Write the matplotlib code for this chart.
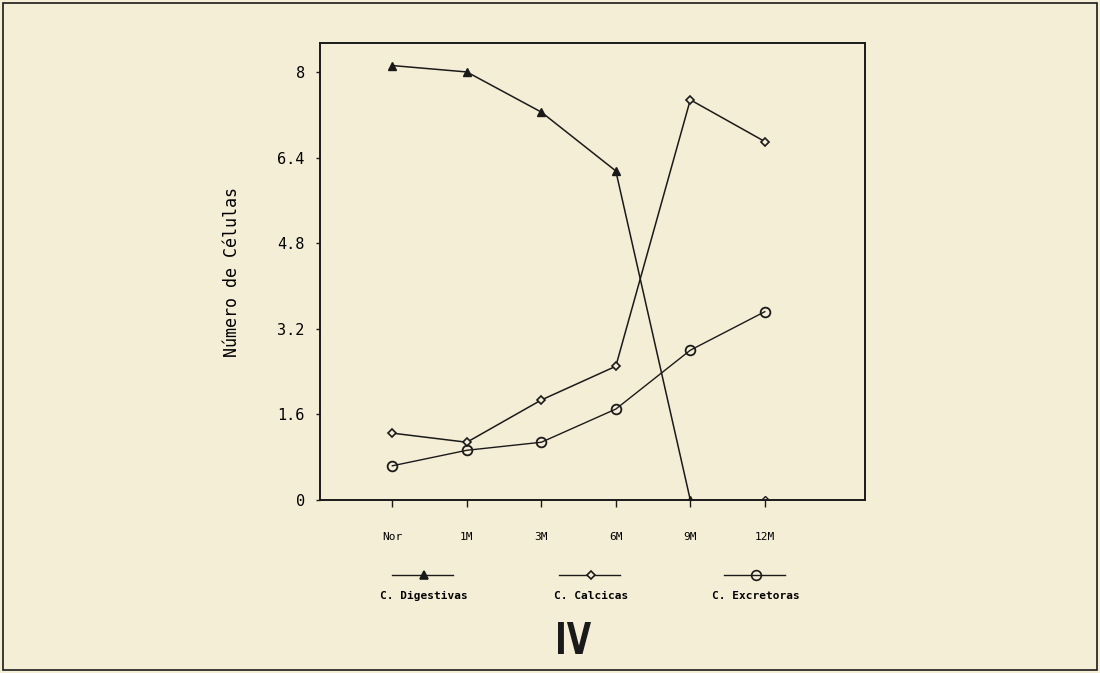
import matplotlib.pyplot as plt
from matplotlib.lines import Line2D
from matplotlib.patches import Rectangle, PathPatch
from matplotlib.textpath import TextPath
from matplotlib.font_manager import FontProperties
from matplotlib.transforms import Affine2D

periodos = ["Nor", "1M", "3M", "6M", "9M", "12M"]
digestivas = [8.12, 8.0, 7.25, 6.15, 0.0]      # 12M drawn as lone marker
digestivas_12m = 0.0
calcicas = [1.25, 1.08, 1.87, 2.5, 7.48, 6.7]
excretoras = [0.64, 0.93, 1.08, 1.7, 2.8, 3.52]
yticks = [0, 1.6, 3.2, 4.8, 6.4, 8]
yticklabels = ["0", "1.6", "3.2", "4.8", "6.4", "8"]

bg = "#f5eed6"
ink = "#1a1a1a"
mono = "DejaVu Sans Mono"

fig = plt.figure(figsize=(11, 6.73), dpi=100, facecolor=bg)
ax = fig.add_axes([0.291, 0.257, 0.495, 0.679], facecolor=bg)

x = list(range(len(periodos)))
ax.plot(x[:5], digestivas, color=ink, lw=1.1, marker="^", ms=6, mfc=ink, mec=ink)
ax.plot([5], [digestivas_12m], ls="none", marker="D", ms=4, mfc=bg, mec=ink, mew=1.0)
ax.plot(x, calcicas, color=ink, lw=1.1, marker="D", ms=4, mfc=bg, mec=ink, mew=1.2)
ax.plot(x, excretoras, color=ink, lw=1.0, marker="o", ms=7, mfc="none", mec=ink, mew=1.3)

ax.set_xlim(-0.97, 6.34)
ax.set_ylim(0, 8.54)
ax.set_xticks(x)
ax.set_xticklabels(periodos, family=mono, fontsize=8)
ax.set_yticks(yticks)
ax.set_yticklabels(yticklabels, family=mono, fontsize=11)
ax.tick_params(axis="x", length=5, width=1, pad=18, color=ink)
ax.tick_params(axis="y", length=3, width=1, pad=8, color=ink)
for s in ax.spines.values():
    s.set_linewidth(1.4)
    s.set_color(ink)

ax.set_ylabel("Número de Células", family=mono, fontsize=12, labelpad=26)

# legend drawn below the axes, label under each sample line
leg = [("C. Digestivas", "^", ink, 6, 0.385),
       ("C. Calcicas", "D", bg, 4, 0.537),
       ("C. Excretoras", "o", "none", 7, 0.687)]
for nombre, mk, fc, ms, cx in leg:
    fig.add_artist(Line2D([cx - 0.029, cx + 0.027], [0.146, 0.146], color=ink, lw=1.0))
    fig.add_artist(Line2D([cx], [0.146], marker=mk, ms=ms, mfc=fc, mec=ink, mew=1.2))
    fig.text(cx, 0.114, nombre, ha="center", va="center", family=mono,
             fontsize=8, weight="bold")

# condensed "IV" panel label (squeezed text path, in pixels)
tp = TextPath((0, 0), "IV", size=44, prop=FontProperties(family="DejaVu Sans", weight="bold"))
ext = tp.get_extents()
sx = 33 / ext.width
sy = 32 / ext.height
tr = Affine2D().translate(-ext.x0, -ext.y0).scale(sx, sy).translate(558, 673 - 654)
fig.add_artist(PathPatch(tr.transform_path(tp), transform=None, fc=ink, ec="none"))

fig.add_artist(Rectangle((0.003, 0.004), 0.994, 0.992, transform=fig.transFigure,
                         fill=False, ec=ink, lw=1.2))

fig.savefig("out.png", dpi=100, facecolor=bg)
